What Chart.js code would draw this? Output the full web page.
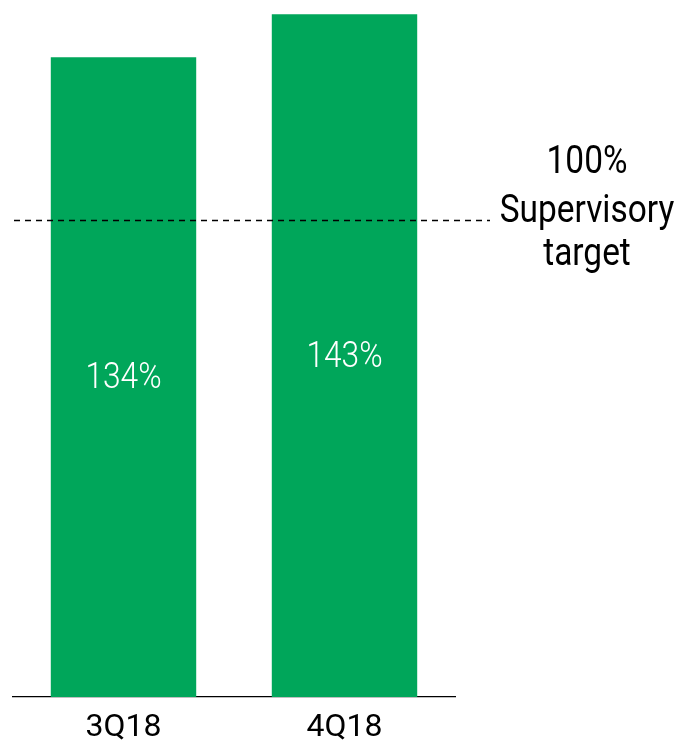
<!DOCTYPE html>
<html>
<head>
<meta charset="utf-8">
<script src="https://cdn.jsdelivr.net/npm/chart.js@4/dist/chart.umd.min.js"></script>
<style>
  html, body { margin: 0; padding: 0; background: #ffffff; }
  #wrap { width: 679px; height: 745px; position: relative; }
</style>
</head>
<body>
<div id="wrap"><canvas id="c" width="679" height="745"></canvas></div>
<script>
// Liquidity coverage by quarter, with the supervisory floor
const quarters = ['3Q18', '4Q18'];
const coverage = [134, 143];
const targetValue = 100;
const targetLines = ['100%', 'Supervisory', 'target'];

const FONT = "'Roboto', 'Liberation Sans', sans-serif";
const GREEN = '#00A65A';

// draw text slightly condensed horizontally
function narrowText(ctx, text, x, y, squeeze) {
  ctx.save();
  ctx.translate(x, y);
  ctx.scale(squeeze, 1);
  ctx.fillText(text, 0, 0);
  ctx.restore();
}

// white value label in the middle of each bar
const barLabels = {
  id: 'barLabels',
  afterDatasetsDraw(chart) {
    const ctx = chart.ctx;
    const meta = chart.getDatasetMeta(0);
    ctx.save();
    ctx.fillStyle = '#ffffff';
    ctx.font = '300 36px ' + FONT;
    ctx.textAlign = 'center';
    ctx.textBaseline = 'middle';
    meta.data.forEach((bar, i) => {
      const mid = (bar.y + bar.base) / 2;
      narrowText(ctx, coverage[i] + '%', bar.x, mid + 2, 0.88);
    });
    ctx.restore();
  }
};

// dashed target line with its caption on the right
const targetLine = {
  id: 'targetLine',
  afterDatasetsDraw(chart) {
    const ctx = chart.ctx;
    const y = chart.scales.y.getPixelForValue(targetValue);
    const x0 = chart.chartArea.left + 1;
    const x1 = 490;
    ctx.save();
    ctx.strokeStyle = '#000000';
    ctx.lineWidth = 1.3;
    ctx.setLineDash([6, 5]);
    ctx.beginPath();
    ctx.moveTo(x0, Math.round(y) + 0.5);
    ctx.lineTo(x1, Math.round(y) + 0.5);
    ctx.stroke();
    ctx.setLineDash([]);
    ctx.fillStyle = '#000000';
    ctx.font = '38px ' + FONT;
    ctx.textAlign = 'center';
    ctx.textBaseline = 'middle';
    const cx = 587;
    narrowText(ctx, targetLines[0], cx, y - 56, 0.88);
    narrowText(ctx, targetLines[1], cx, y - 7, 0.88);
    narrowText(ctx, targetLines[2], cx, y + 36, 0.88);
    ctx.restore();
  }
};

new Chart(document.getElementById('c'), {
  type: 'bar',
  data: {
    labels: quarters,
    datasets: [{
      data: coverage,
      backgroundColor: GREEN,
      borderWidth: 0,
      categoryPercentage: 1,
      barPercentage: 0.658
    }]
  },
  options: {
    responsive: false,
    animation: false,
    devicePixelRatio: 1,
    layout: { padding: { left: 13, right: 224, top: 0, bottom: -14 } },
    plugins: { legend: { display: false }, tooltip: { enabled: false } },
    scales: {
      x: {
        grid: { display: false, drawTicks: false },
        border: { display: true, color: '#000000', width: 1.3 },
        ticks: { color: '#000000', font: { family: FONT, size: 32, lineHeight: 1 }, padding: 15 }
      },
      y: {
        display: false,
        min: 0,
        max: 146
      }
    }
  },
  plugins: [barLabels, targetLine]
});
</script>
</body>
</html>
